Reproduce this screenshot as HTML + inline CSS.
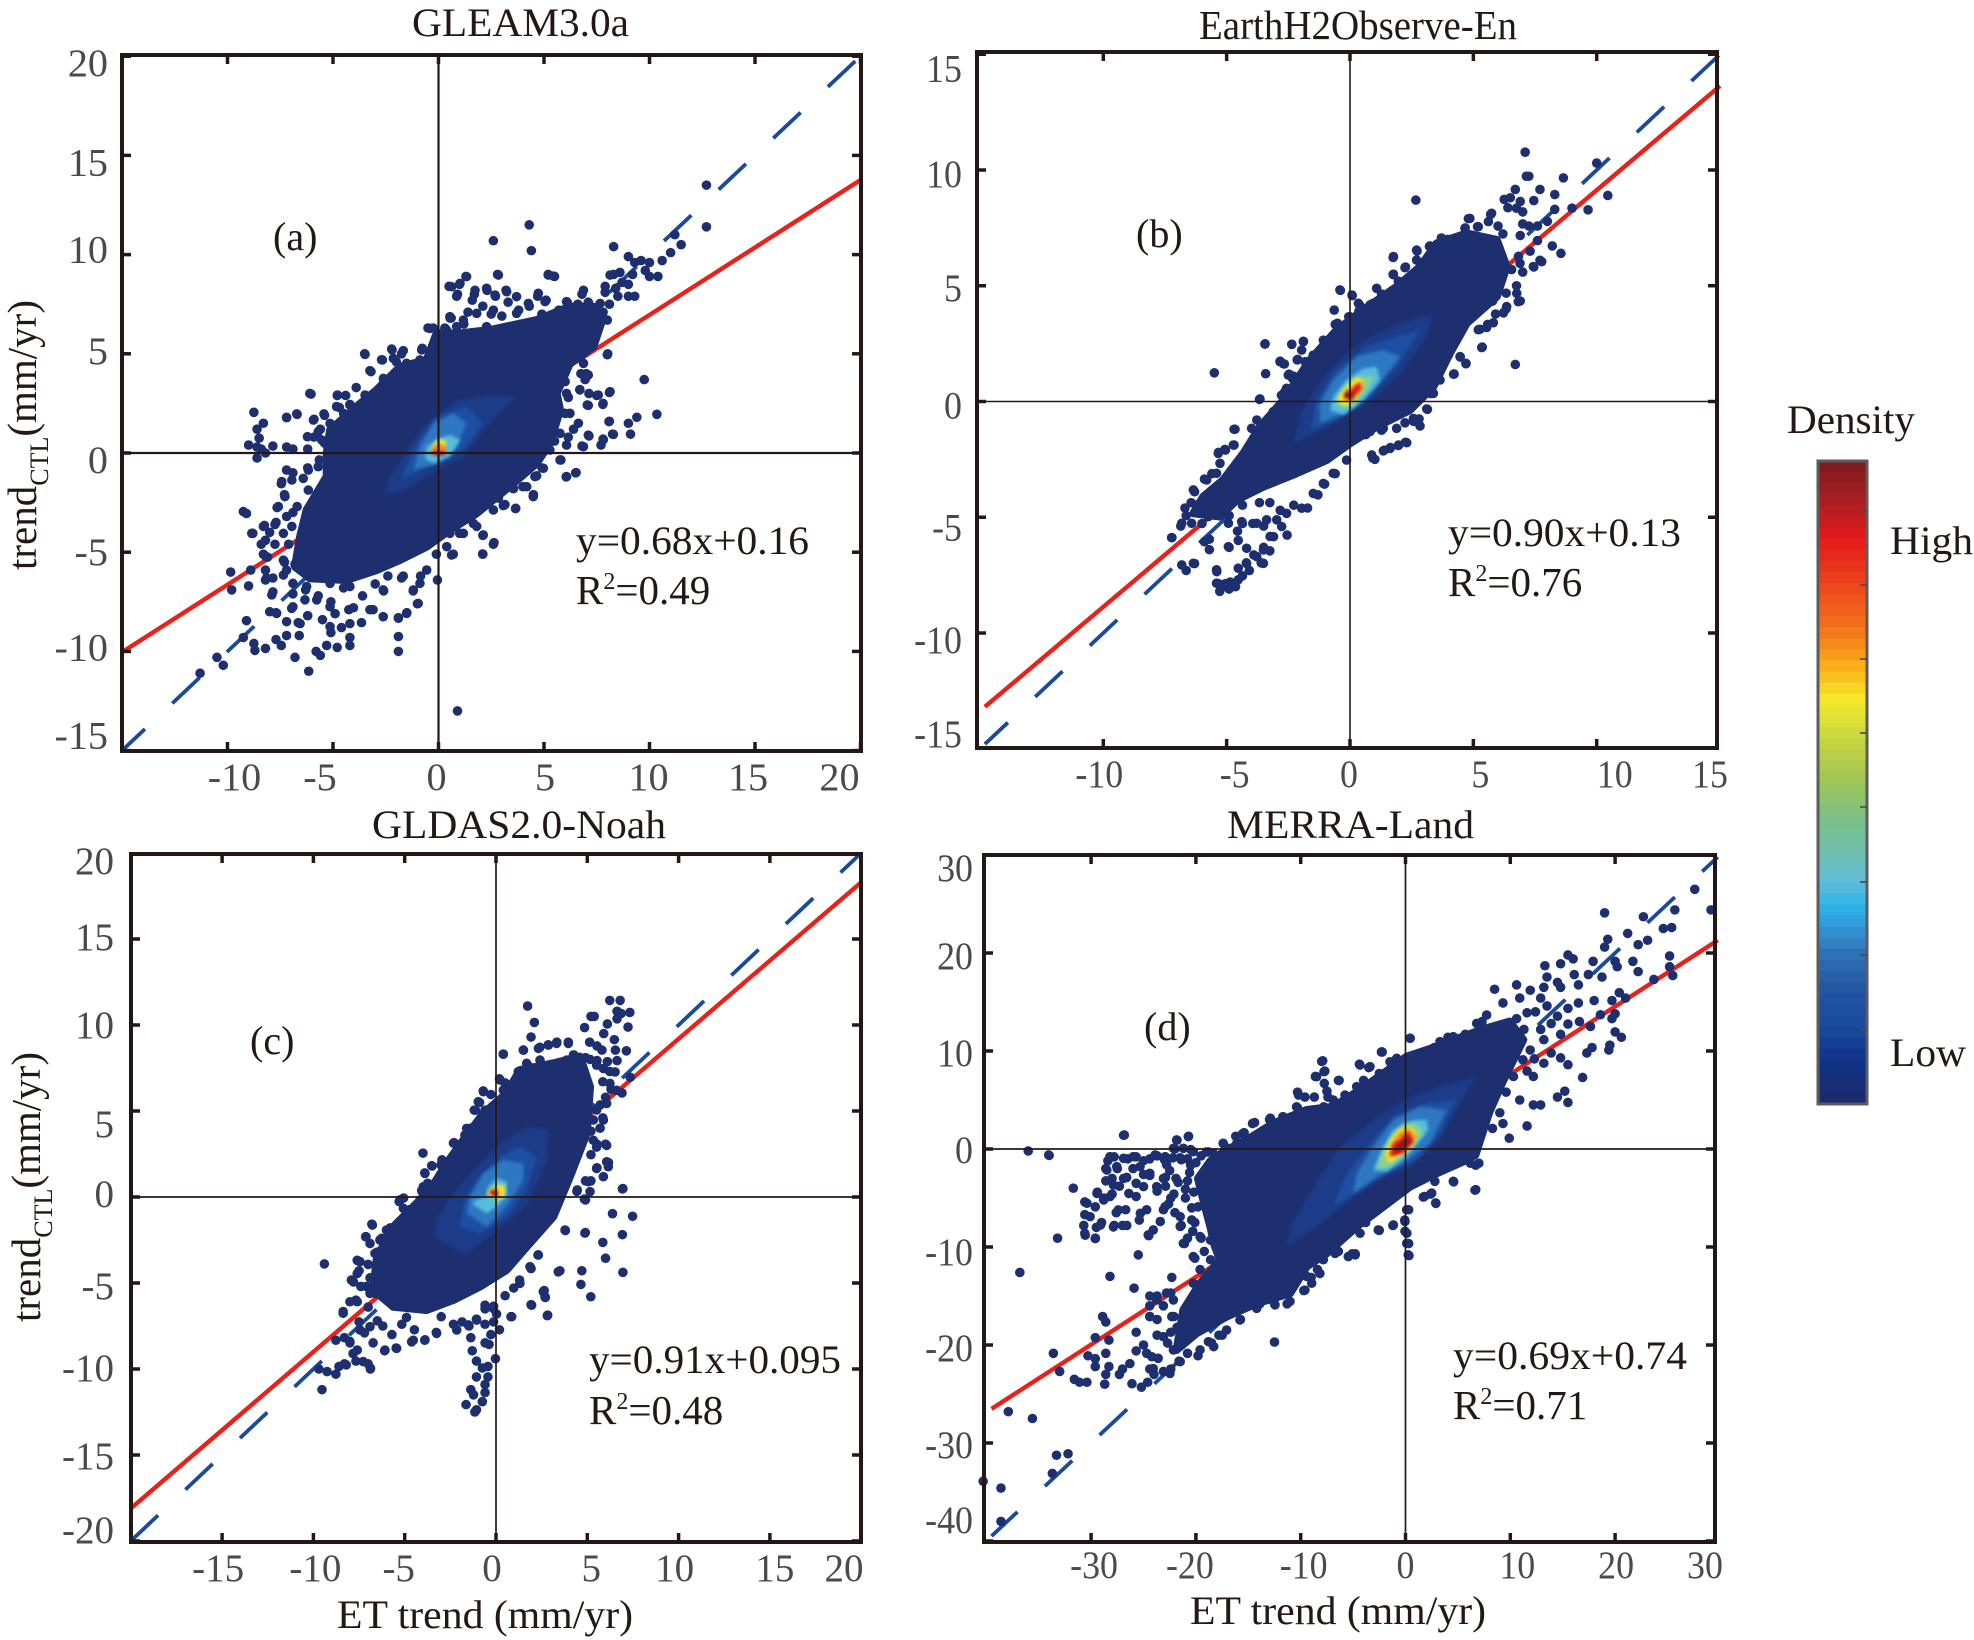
<!DOCTYPE html>
<html lang="en">
<head>
<meta charset="utf-8">
<title>Density scatter of ET trend against CTL trend</title>
<style>
html,body{margin:0;padding:0;background:#fff;}
svg{display:block;}
text{font-family:"Liberation Serif",serif;fill:#231815;}
</style>
</head>
<body>
<svg id="figure" xmlns="http://www.w3.org/2000/svg" width="1974" height="1640" viewBox="0 0 1974 1640">
<defs>
<filter id="soft" x="-30%" y="-30%" width="160%" height="160%"><feGaussianBlur stdDeviation="1.6"/></filter>
</defs>
<rect x="0" y="0" width="1974" height="1640" fill="#fff"/>
<g id="panels"></g>

<text x="412" y="36" font-size="40" textLength="217" lengthAdjust="spacingAndGlyphs">GLEAM3.0a</text>
<text x="1199" y="39" font-size="41" textLength="318" lengthAdjust="spacingAndGlyphs">EarthH2Observe-En</text>
<text x="372" y="838" font-size="40" textLength="294" lengthAdjust="spacingAndGlyphs">GLDAS2.0-Noah</text>
<text x="1227" y="838" font-size="40" textLength="247" lengthAdjust="spacingAndGlyphs">MERRA-Land</text>

<text x="273" y="250" font-size="40">(a)</text>
<text x="1136" y="247" font-size="40">(b)</text>
<text x="250" y="1054" font-size="40">(c)</text>
<text x="1144" y="1040" font-size="40">(d)</text>

<text x="576" y="554" font-size="40" textLength="233" lengthAdjust="spacingAndGlyphs">y=0.68x+0.16</text>
<text x="576" y="604" font-size="41">R<tspan font-size="24" dy="-15">2</tspan><tspan dy="15">=0.49</tspan></text>
<text x="1448" y="546" font-size="40" textLength="233" lengthAdjust="spacingAndGlyphs">y=0.90x+0.13</text>
<text x="1448" y="596" font-size="41">R<tspan font-size="24" dy="-15">2</tspan><tspan dy="15">=0.76</tspan></text>
<text x="589" y="1373" font-size="40" textLength="252" lengthAdjust="spacingAndGlyphs">y=0.91x+0.095</text>
<text x="589" y="1424" font-size="41">R<tspan font-size="24" dy="-15">2</tspan><tspan dy="15">=0.48</tspan></text>
<text x="1453" y="1369" font-size="40" textLength="234" lengthAdjust="spacingAndGlyphs">y=0.69x+0.74</text>
<text x="1453" y="1419" font-size="41">R<tspan font-size="24" dy="-15">2</tspan><tspan dy="15">=0.71</tspan></text>

<text transform="translate(36 570) rotate(-90)" font-size="41">trend<tspan font-size="26" dy="12">CTL</tspan><tspan dy="-12">(mm/yr)</tspan></text>
<text transform="translate(40 1322) rotate(-90)" font-size="41">trend<tspan font-size="26" dy="12">CTL</tspan><tspan dy="-12">(mm/yr)</tspan></text>
<text x="337" y="1628" font-size="40" textLength="296" lengthAdjust="spacingAndGlyphs">ET trend (mm/yr)</text>
<text x="1190" y="1624" font-size="40" textLength="296" lengthAdjust="spacingAndGlyphs">ET trend (mm/yr)</text>

<g id="colorbar"></g>
<text x="1787" y="433" font-size="40" textLength="128" lengthAdjust="spacingAndGlyphs">Density</text>
<text x="1890" y="554" font-size="40" textLength="83" lengthAdjust="spacingAndGlyphs">High</text>
<text x="1890" y="1066" font-size="40" textLength="76" lengthAdjust="spacingAndGlyphs">Low</text>
</svg>

<script>
/* ---------- tick values ---------- */
const xTicksA = [-10,-5,0,5,10,15,20];
const yTicksA = [20,15,10,5,0,-5,-10,-15];
const xTicksB = [-10,-5,0,5,10,15];
const yTicksB = [15,10,5,0,-5,-10,-15];
const xTicksC = [-15,-10,-5,0,5,10,15,20];
const yTicksC = [20,15,10,5,0,-5,-10,-15,-20];
const xTicksD = [-30,-20,-10,0,10,20,30];
const yTicksD = [30,20,10,0,-10,-20,-30,-40];

/* ---------- regression fits ---------- */
const fitSlopes = [0.68,0.90,0.91,0.69];
const fitIntercepts = [0.16,0.13,0.095,0.74];

/* ---------- extent of the drawn reference lines (data units) ---------- */
const lineFromX = [-15,-14.8,-20,-39.5];
const lineToX = [20,15,20,29.8];

/* ---------- solid low-density region of each panel (data units) ---------- */
const hullA = [[-6.8,-5.73],[-6.09,-6.32],[-4.35,-6.4],[-2.93,-5.9],[-1.82,-5.39],[-0.56,-4.72],[0.54,-3.88],[1.81,-3.04],[3.55,-1.53],[4.65,-0.52],[5.28,0.49],[5.76,2.17],[5.6,3.0],[6.23,4.52],[7.34,5.36],[7.81,6.87],[7.34,7.38],[6.23,7.38],[4.65,6.7],[2.44,6.2],[1.02,6.03],[-0.09,6.03],[-0.56,4.69],[-1.82,4.35],[-2.93,3.18],[-3.88,2.34],[-5.14,1.16],[-5.3,-0.02],[-5.3,-1.19],[-6.25,-2.87],[-6.56,-4.22]];
const hullB = [[-6.35,-4.83],[-5.27,-4.97],[-4.59,-4.25],[-3.51,-3.68],[-2.16,-3.1],[-0.95,-2.53],[0,-1.81],[1.08,-1.09],[2.43,-0.37],[3.38,0.64],[4.05,2.08],[4.73,3.38],[5.95,4.53],[6.35,5.82],[5.95,6.98],[4.73,7.26],[3.51,6.83],[2.84,5.82],[1.89,4.96],[0.54,3.95],[-0.54,3.09],[-1.62,1.79],[-2.7,0.06],[-3.65,-1.09],[-4.32,-2.24],[-5.14,-3.39],[-5.95,-4.11]];
const hullC = [[-5.8,-1.92],[-6.54,-3.66],[-6.72,-5.41],[-5.62,-6.38],[-3.8,-6.57],[-2.34,-5.99],[-0.88,-5.21],[0.58,-4.24],[1.68,-2.89],[3.14,-1.14],[4.05,1.18],[4.97,3.7],[5.15,6.41],[4.6,8.16],[3.14,7.77],[1.31,7.38],[0.58,6.03],[-0.69,4.86],[-1.79,3.31],[-2.7,1.96],[-3.61,0.41],[-5.07,-1.14]];
const hullD = [[-21.84,-20.5],[-19.93,-18.8],[-17.07,-17.1],[-14.2,-15.75],[-11.02,-14.73],[-9.43,-12],[-7.52,-10.65],[-4.66,-7.93],[-2.11,-5.88],[0.43,-3.84],[2.97,-2.48],[5.84,-1.12],[6.67,-0.6],[7.97,3.68],[9.28,6.88],[11.24,11.15],[9.93,13],[7.32,12.2],[4.05,10.9],[2.97,10.44],[0.11,9.42],[-2.11,7.72],[-4.34,6.02],[-6.89,4.32],[-9.43,3.98],[-12.6,2.62],[-15.16,0.92],[-17.07,-0.1],[-18.6,-1.2],[-19.8,-3],[-19.2,-5.6],[-18.6,-8],[-18.2,-9.9],[-17.7,-11.33],[-19.6,-13.7],[-21.2,-16.43]];

/* ---------- density contours: [level, vertices] (data units) ---------- */
const contoursA = [
 [1,[[-2.61,-2.12],[-1.51,-1.86],[-0.09,-0.86],[1.18,-0.18],[2.44,1.5],[3.7,2.84],[2.44,2.92],[0.86,2.67],[-0.72,1.33],[-1.51,0.15],[-2.3,-1.19]]],
 [2,[[-1.82,-1.36],[-0.09,-0.52],[1.18,0.15],[2.12,1.5],[1.33,2.34],[-0.09,1.83],[-1.03,0.49]]],
 [3,[[-1.19,-0.86],[-0.09,-0.52],[0.86,0.32],[1.33,1.5],[0.7,2],[-0.24,1.5],[-0.88,0.32]]],
 [4,[[-0.64,-0.27],[-0.24,-0.52],[0.54,-0.18],[1.02,0.66],[0.54,0.91],[-0.09,0.66],[-0.56,0.32]]],
 [6,[[-0.32,0.07],[0.23,0.15],[0.39,0.57],[0.07,0.74],[-0.24,0.49]]],
 [7,[[-0.32,-0.02],[0.3,-0.02],[0.39,0.32],[0,0.49],[-0.28,0.32]]],
 [8,[[-0.32,-0.1],[0.3,-0.15],[0.3,0.1],[-0.24,0.15]]]
];
const contoursB = [
 [1,[[-2.3,-1.81],[-1.08,-1.23],[0,-0.51],[1.08,0.21],[2.16,1.36],[3.11,2.8],[3.38,3.81],[2.43,3.52],[1.08,2.94],[0,2.22],[-1.08,1.07],[-2.03,-0.51]]],
 [2,[[-1.62,-1.23],[-0.54,-0.8],[0.68,0.06],[1.89,1.5],[2.84,3.09],[1.89,2.8],[0.68,2.37],[-0.54,1.36],[-1.35,0.06]]],
 [3,[[-1.22,-0.94],[0,-0.37],[1.08,0.64],[2.03,1.94],[1.35,2.22],[0.27,1.94],[-0.68,0.93],[-1.22,-0.08]]],
 [4,[[-0.81,-0.37],[-0.27,-0.58],[0.54,0.06],[1.22,0.93],[1.08,1.5],[0.54,1.43],[-0.14,0.93],[-0.68,0.21]]],
 [5,[[-0.47,-0.22],[0.14,-0.22],[0.68,0.5],[0.95,1.07],[0.41,1.07],[-0.14,0.79],[-0.47,0.21]]],
 [6,[[-0.54,0],[-0.2,-0.22],[0.27,0.21],[0.54,0.93],[0.27,1.07],[-0.14,0.64],[-0.41,0.35]]],
 [7,[[-0.27,0.06],[0.14,0.06],[0.54,0.64],[0.41,0.86],[0.14,0.64],[-0.14,0.5]]],
 [8,[[-0.2,0.14],[0.14,0.21],[0.47,0.57],[0.34,0.81],[0.07,0.5]]],
 [9,[[-0.24,0.21],[0.11,0.06],[0.11,0.35],[-0.07,0.47],[-0.24,0.35]]]
];
const contoursC = [
 [1,[[-3.43,-2.31],[-1.61,-3.37],[-0.15,-2.11],[1.68,-0.56],[2.77,1.96],[2.87,3.9],[1.68,4.09],[0.22,3.12],[-1.24,1.57],[-2.52,0.02],[-3.25,-1.34]]],
 [2,[[-1.97,-1.72],[-0.88,-2.11],[0.58,-1.14],[1.68,0.41],[2.23,2.34],[1.31,2.93],[0.22,2.34],[-1.06,0.99],[-1.79,-0.37]]],
 [3,[[-1.61,-0.95],[-0.51,-1.72],[0.58,-0.56],[1.5,0.99],[1.5,1.96],[0.4,2.15],[-0.69,1.38],[-1.42,0.02]]],
 [4,[[-1.33,-0.37],[-0.51,-0.95],[0.04,-0.56],[0.58,0.02],[0.58,0.89],[0.04,1.09],[-0.42,0.6],[-0.51,0.02],[-1.06,-0.17]]],
 [6,[[-0.51,0.21],[0.13,-0.17],[0.49,0.02],[0.49,0.7],[0.04,0.7],[-0.33,0.41]]],
 [7,[[-0.51,0.25],[0.04,-0.08],[0.22,0.21],[0.04,0.5],[-0.33,0.37]]],
 [9,[[-0.33,0.31],[-0.05,-0.02],[0.07,0.02],[0.04,0.41],[-0.18,0.41]]]
];
const contoursD = [
 [1,[[-11.34,-9.97],[-8.48,-7.93],[-5.3,-5.2],[-2.43,-3.16],[0.43,-1.8],[3.29,0.92],[5.2,4.66],[6.79,7.38],[3.29,6.36],[-0.21,5],[-3.07,2.96],[-6.25,0.24],[-8.79,-3.84],[-11.02,-7.93]]],
 [2,[[-6.89,-5.88],[-4.34,-4.18],[-1.8,-2.48],[1.07,-1.12],[3.29,1.6],[4.88,5],[1.7,4.66],[-1.16,3.3],[-3.39,0.58],[-5.61,-2.48]]],
 [3,[[-4.98,-4.52],[-2.75,-2.82],[-0.21,-1.46],[2.34,0.58],[3.93,3.98],[1.38,4.32],[-1.16,2.96],[-3.07,0.24],[-4.66,-2.48]]],
 [4,[[-3.07,-2.14],[-1.8,-2.31],[0.11,-0.78],[2.18,1.94],[2.02,2.96],[0.75,2.96],[-1.16,1.94],[-2.11,0.24]]],
 [5,[[-2.75,-1.97],[-1.48,-1.8],[0.43,-0.1],[1.7,1.6],[1.07,2.62],[-0.21,2.62],[-1.16,1.6],[-2.11,-0.1]]],
 [6,[[-1.96,-0.61],[-1.48,-1.46],[0.43,0.07],[1.07,1.6],[0.43,2.28],[-0.68,1.94],[-1.48,0.92]]],
 [7,[[-1.64,-0.78],[0.43,0.24],[1.07,1.26],[0.27,2.1],[-0.68,1.6],[-1.32,0.58]]],
 [8,[[-1.48,-0.78],[-0.21,-0.44],[0.75,0.75],[0.27,1.77],[-0.52,0.92],[-1.16,0.58]]],
 [9,[[-1.16,-0.61],[-0.21,0.07],[0.59,0.75],[0.11,1.26],[-0.68,0.58]]]
];

/* ---------- individually visible scatter points [x,y] ---------- */
const pointsA = [[0.9,-13],[12.7,13.5],[12.7,11.4],[11.2,11],[11.5,10.5],[11,10.1],[10.6,9.7],[8.3,10.4],[4.3,11.5],[4.4,10.2],[2.6,10.7],[2.8,9],[5.2,9],[5.5,8.9],[1.3,8.9],
[9,9.9],[9.3,9.6],[9.6,9.7],[10,9.6],[9.8,9.2],[10,8.9],[10.4,8.9],[9.2,9],[8.6,9.1],[8.3,9],[8.7,8.6],[9,8.5],[8.4,8.3],[7.9,8.4],[7.9,8.1],[8.5,7.9],[9,7.9],[9.3,7.9],[8.1,7.5],[7.8,7.1],[7.3,7],[7.6,6.6],[8,6.7],
[0.5,8.4],[1,8.5],[0.9,8],[1.7,8],[2.3,8.2],[1.6,7.7],[2.7,7.9],[3.2,8.2],[3.3,7.6],[4.7,7.9],[5.1,7.7],[6.8,8],[6.1,7.6],[3.8,7.2],[2.1,7.4],[1.4,7.1],[4.3,7.4],[5.7,7.2],[6.6,7.5],[7.1,7.6],[0.6,6.8],[1.2,6.5],[2.5,7],[3,6.9],[4.9,7],
[-8.75,2.05],[-8.3,1.5],[-8.6,1.2],[-8.5,0.75],[-9,0.4],[-8.6,0.3],[-8.4,0.2],[-8.6,-0.25],[-8.2,0],[-7.85,0.35],[-7.2,0.3],[-6.9,0.2],[-7.2,1.8],[-6.7,1.95],[-6.1,3],[-4.8,2.9],[-5.9,1.7],[-5.4,1.9],[-4.7,2.3],[-4.2,2.45],[-3.5,5],[-2.7,4.7],[-3.2,4.1],[-2.2,5.2],[-1.75,5],[-2,4.6],[-2.6,3.7],[-0.8,5.2],[-0.5,6.3],[-0.25,6.3],[0.3,6.3],[0.55,6.8],[-5.6,1.2],[-5.9,0.8],[-5.4,0.5],[-6.2,0.2],[-3.9,3.3],[-4.4,2.9],
[-9.85,-6],[-9.8,-6.9],[-9.25,-2.95],[-9.1,-3.05],[-8.8,-4.05],[-8.25,-3.65],[-8,-4],[-7.7,-3.5],[-7.65,-2.75],[-7.3,-2.1],[-7.45,-1.55],[-6.9,-1],[-6.2,-0.75],[-5.65,-0.35],[-8.3,-5.1],[-8.1,-5.25],[-8.9,-5.9],[-9,-6.7],[-8.2,-6.4],[-7.85,-6.3],[-7.85,-7],[-9.1,-8.45],[-8,-8],[-7.7,-8.05],[-6.9,-7.75],[-7.2,-8.5],[-6.65,-8.55],[-6.6,-9.2],[-7.7,-9.4],[-7.2,-9.2],[-8.75,-9.6],[-9.25,-9.3],[-8.2,-9.85],[-7.45,-9.7],[-8.7,-9.95],[-10.5,-10.3],[-10.2,-10.7],[-11.3,-11.1],[-6.8,-10.3],[-6.15,-11],[-5.8,-10],[-5.6,-10.2],[-5.3,-9.7],[-4.8,-9.8],[-4.2,-9.7],[-4.2,-9.3],[-5.1,-9.05],[-4.6,-8.8],[-3.65,-8.55],[-4.25,-7.9],[-3.1,-7.9],[-2.6,-6.95],[-1.9,-8.3],[-1.9,-9.25],[-1.9,-10],[-1.5,-8.05],[-1,-7.6],[-1.2,-6.95],[-0.05,-6.4],[-0.85,-6.2],[-1.75,-6.3],[-0.1,-5.1],[0.7,-5.1],[2.1,-4.15],[2.1,-5.1],[2.6,-4.6],[1,-4.05],[1.65,-3.55],[3.15,-2.6],[3.65,-2.8],[4.5,-2.1],[4,-1.7],[3.55,-1.8],[4.9,-0.75],[4.65,-1.15],[6.05,-1.2],[6.5,-1],[5.8,-0.35],
[-6.8,-5.6],[-6.3,-6.9],[-5.7,-7.2],[-5.1,-7.5],[-6.2,-8.2],[-5.5,-8.4],[-4.9,-8.1],[-3.6,-7.2],[-4.5,-6.8],[-3,-6.6],[-2.4,-6.2],[-7.1,-4.6],[-7.3,-5.5],[-6.9,-3],
[10.35,1.95],[9.75,3.7],[9.4,1.8],[9,1.5],[9.1,0.95],[8.25,0.95],[7.8,0.7],[7.7,0.4],[8.1,1.6],[7.1,0.9],[6.8,0.35],[6.4,1.2],[6.15,0.8],[8.1,3.05],[7.8,2.5],[7.5,2.9],[7.1,2.4],[8,4.95],[7,4],[6.75,4],[6.95,3.7],[6.7,3.2],[6.75,4.9],[6,3.6],[6,2],[6.15,2.8],[5.5,0.6],[5.2,0.2],
[0.62,8.38],[1.02,8.55],[1.33,8.89],[2.84,8.97],[5.2,8.97],[5.44,8.92],[0.86,7.9],[1.73,8.2],[2.28,8.3],[2.68,7.96],[3.23,8.13],[3.7,7.88],[4.73,8.05],[4.26,7.54],[5.05,7.63],[6.07,7.63],[6.87,8.2],[7.66,7.54],[8.13,8.97],[0.54,6.87],[1.18,6.7],[1.81,7.04],[2.6,7.2],[3.7,7.04],[0.86,6.37],[0.38,6.2],[-0.4,6.28],[2.28,6.37],
[-3.48,4.97],[-2.66,4.69],[-3.25,4.15],[-2.22,5.24],[-1.67,5.16],[-0.77,5.28],[-2.14,4.77],[-1.51,4.52],[-0.88,4.69],[-2.61,3.76],[-6.04,2.97],[-4.79,2.92],[-7.2,1.78],[-6.72,1.97],[-5.93,1.66],[-5.43,1.97],[-4.83,2.34],[-4.2,2.42],[-3.48,2.92],[-5.7,1.07],[-5.54,0.66],[-6.21,0.82],[-5.14,1.49],[-4.5,2],
[-7.2,-0.86],[-6.95,-1.36],[-7.43,-1.44],[-6.41,-1.28],[-5.7,-0.69],[-6.17,-0.86],[-7.28,-2.2],[-7.59,-2.7],[-6.7,-2.7],[-7.2,-3.2],[-6.17,-1.87],[-8.3,-3.7],[-7.75,-3.6],[-7.35,-4.05],[-6.95,-3.7],[-8.85,-4.05],[-8.2,-4.4],[-8.4,-4.6],[-7.75,-4.6],[-8.2,-5.2],[-7.35,-5.4],[-8.2,-5.9],[-7.2,-5.9],[-8.15,-6.3],[-7.35,-6.15],[-6.9,-6.57],[-7.9,-7.15],[-6.9,-7.1],[-6.25,-6.73],[-5.14,-6.57],[-4.2,-6.73],[-2.62,-6.9],[-1.19,-6.9],[-0.88,-6.57],[-1.67,-6.2],[-0.56,-5.9],
[0.39,-4.72],[0.62,-5.14],[2.12,-4.13],[2.63,-4.52],[2.09,-5.09],[1.81,-3.7],[1.18,-4.05],[0.54,-4.05],[2.84,-2.28],[3.07,-2.65],[3.66,-2.79],[4.49,-2.2],[4.18,-1.7],[3.55,-1.78],[2.6,-2.87],[1.81,-2.7],[1.33,-3.2],[3.07,-1.53],[4.97,-0.77],[4.57,-1.19],[5.76,-0.35],[6.07,-1.19],[6.52,-0.99],[5.28,0.15],
[6.07,3],[6.7,3.18],[7.13,3],[7.57,2.92],[8.13,3.09],[7.05,2.42],[7.79,2.45],[6.23,2],[6.63,1.5],[7.13,0.86],[8.08,1.58],[8.29,0.94],[7.81,0.66],[6.87,0.32],[6.07,0.4],[5.76,0.99],[8.02,5],[7.1,3.93],[6.87,4.52],[6.63,4.85],
[-5.77,-7.4],[-5.14,-7.75],[-4.03,-7.8],[-3.25,-7.9],[-2.62,-8.25],[-1.9,-8.33],[-1.51,-8.08],[-0.96,-7.58],[-5.14,-8.75],[-4.2,-8.6],[-6.56,-8.6],[-7.67,-8.08],[-6.96,-7.83],[-6.33,-7.4]];

const pointsB = [[7.1,10.77],[7.15,9.73],[7.25,9.73],[8.65,9.66],[10,10.3],[7.7,9.16],[6.7,9.16],[8.3,8.94],[10.45,8.9],[2.67,8.7],[6.25,8.73],[6.5,8.8],[6.9,8.64],[7.45,8.68],[6.4,8.37],[6.75,8.35],[7,8.19],[8.3,8.3],[9,8.35],[9.65,8.28],[8,7.78],[7,7.67],[7.25,7.58],[7.6,7.58],[4.8,7.9],[5.7,8.08],[4.67,7.5],[5.17,7.55],[6,7.58],[6.2,7.24],[6.9,7.17],[7.6,6.95],[8.2,6.72],[8.55,6.4],[7.3,6.49],[7.7,6.1],[6.83,6.27],[7.45,5.81],[7,5.59],[6.55,5.7],[6.75,5],[6.9,4.34],[6.33,4.68],[6.33,4],[5.78,4.34],[5.9,3.78],[5.2,3.1],[5.58,3.33],[5.36,2.35],[4.47,1.92],[4.7,1.63],[4.2,1.18],[6.7,1.6],[3.28,0.34],[3.14,-0.34],[2.8,-0.75],[2.58,-0.86],[2.25,-1.76],[1.97,-1.88],[1.64,-1.99],[1.39,-2.1],[0.92,-2.44],[1.28,-1.24],[0.64,-1.43],
[-5.5,1.24],[-3.44,2.49],[-3.42,1.2],[-2.36,2.47],[-1.89,2.58],[-2.83,1.74],[-2.7,1.63],[-2.14,1.8],[-2.47,1.18],[-2.33,1],[-2.55,0.5],[-2.78,0.27],[-3.67,0.09],[-0.39,4.8],[0.08,4.6],[0.42,4.12],[0.36,3.9],[-0.05,3.66],[-0.6,3.33],[-0.47,3],[1.75,6.22],[1.75,5.48],[2.72,6.5],[3.22,6.7],[2.25,5.81],[1.28,4.64],[0.92,4.23],[3.7,7.06],[3.97,7],[4.4,7],[5,6.9],[5.5,6.6],[2.9,5.9],[3.4,6.1],[5.9,5.9],[6.1,6.4],[5.4,5.2],[5.7,4.9],
[-7.22,-5.88],[-6.64,-7.3],[-6.3,-7],[-5.7,-6.4],[-5.9,-6.06],[-6.86,-5.38],[-6.64,-4.93],[-6.44,-4.37],[-6.3,-3.9],[-6,-4.8],[-6,-5.27],[-5.6,-4.7],[-5.33,-2.2],[-5.05,-2.1],[-4.7,-1.2],[-4.7,-1.88],[-5.9,-3.35],[-5.6,-3.12],[-5.4,-7.35],[-5.33,-7.87],[-5.05,-7.87],[-4.86,-7.8],[-5.28,-8.2],[-4.9,-8.1],[-4.64,-8],[-4.36,-7.53],[-4.08,-7.3],[-3.6,-6.97],[-4.2,-6.97],[-3.9,-6.63],[-3.5,-6.3],[-3.25,-6.45],[-3.1,-5.84],[-2.55,-5.77],[-4.56,-5.6],[-4.9,-6.3],[-5.7,-5.95],[-4.36,-5.27],[-3.94,-5.27],[-3.5,-5.38],[-3.25,-4.37],[-2.83,-4.7],[-2.28,-4.48],[-1.72,-4.6],[-1.3,-4.03],[-1.03,-3.57],[-0.6,-3.12],[-4.36,-4.48],[-4.9,-4.93],[-3.67,-4.37],[-5.2,-4.48],[-5.4,-3.9],[-5,-3.6],[-4.3,-3.5],
[-3.45,2.48],[-2.36,2.47],[-1.89,2.6],[-1.08,2.65],[-1.96,2.22],[-1.49,2],[-2.12,1.82],[-1.82,1.72],[-2.84,1.72],[-2.66,1.62],[-2.5,1.14],[-2.3,1.1],[-2.57,0.57],[-2.64,0.42],[-2,0.93],[-1.66,1.36],[-3.65,0.11],[-3.11,-0.44],[-3.78,-0.8],[-3.38,-0.87],[-3.99,-1.16],[-4.66,-1.2],[-4.73,-1.88],[-5.07,-2.07],[-5.34,-2.24],[-5.27,-2.67],[-5.41,-3.1],[-5.81,-3.39],[-6.35,-3.82],[-6.69,-4.6],[-6.22,-4.47],[-6.82,-5.26],[-6.42,-5.26],[-7.23,-5.88],[-5.74,-4.97],
[-0.41,4.82],[0.09,4.57],[0.34,4.24],[0.41,3.95],[-0.64,3.95],[0,3.66],[-0.51,3.38],[1.08,4.89],[1.35,4.6],[0.81,4.17],[1.76,6.26],[1.76,5.5],[1.96,5.2],[2.23,5.78],[2.7,6.54],[2.7,6.11],[3.24,6.72],[3.72,7.05],[4.12,7],[3.45,6.33],[4.86,7.91],[5.2,7.55],[5.74,8.13],[5.61,7.77],[4.66,7.48],
[6.89,5.97],[7.77,6.04],[7.43,5.83],[6.76,4.67],[6.82,4.31],[6.35,4.1],[6.22,3.83],[5.81,3.4],[5.27,3.12],[5.54,3.2],[5.34,2.33],[4.46,1.94],[4.7,1.65],[4.22,1.19],[3.65,0.93],[3.38,0.35],[3.11,-0.32],[2.84,-1.06],[2.57,-0.73],[2.23,-0.92],[1.89,-1.16],[1.35,-1.16],[2.3,-1.78],[1.96,-1.9],[1.62,-2.03],[1.35,-2.13],[0.88,-2.31],[1.01,-2.5],[0.81,-1.3],
[-0.14,-2.53],[-0.68,-3.1],[-1.08,-3.54],[-1.49,-3.97],[-1.96,-4.61],[-2.57,-4.83],[-2.77,-5.4],[-2.97,-5.11],[-3.38,-5.11],[-3.78,-5.26],[-4.39,-5.19],[-4.93,-5.26],[-4.53,-6],[-4.93,-6.27],[-3.24,-5.83],[-3.51,-6.41],[-4.19,-6.34],[-3.78,-6.7],[-3.51,-6.99],[-4.53,-7.2],[-5.41,-7.27],[-6.35,-6.99],[-6.82,-7.06],[-5.41,-7.85],[-5,-8],[-4.53,-7.7],[-4.19,-7]];

const pointsC = [[1.73,11.1],[2.1,10.15],[1.92,9.3],[0.4,8.3],[6.23,11.43],[6.8,11.43],[5.2,10.5],[5.38,10.5],[4.85,9.85],[5.9,9.5],[6.1,10.06],[6.63,10.8],[6.85,10.67],[6.63,10.36],[7.33,10.73],[7.23,9.88],[7.14,8.5],[6.48,9.15],[6.54,8.54],[5.13,9],[5.53,8.78],[5.8,8.54],[4.9,8.1],[5.53,7.93],[6.1,7.87],[6.63,7.93],[6.23,7.3],[5.85,6.7],[7.35,6.96],[6.3,6.26],[6.9,6.05],[6,5.8],[5.7,5.35],[5.85,4.6],[5.2,3.83],[5.53,3.07],[6,3.07],[5.2,2.46],[6.16,2],[5.53,1.7],[4.9,0.94],[5.2,0.94],[6.95,0.49],[4.84,-0.12],[4.43,0.33],[6.38,-0.97],[7.48,-1.12],[6.92,-2.19],[5.85,-2.64],[6,-3.56],[4.87,-2.1],[3.8,-1.95],[3.5,-4.29],[4.7,-4.29],[4.65,-5.08],[6.95,-4.38],[5.19,-5.8],[2.64,-5.44],[2.7,-5.84],[1.92,-6.26],[2.83,-6.87],[0.82,-6.96],[2.3,-3.37],[1.92,-4.16],[1.29,-4.83],[0.97,-5.29],[0.5,-5.74],[-0.13,-6.35],[-0.6,-6.5],[0.03,-6.8],[-0.6,-7.4],[-0.13,-7.26],[0.19,-7.72],[-0.28,-8],[-1.07,-7.1],[-1.48,-7.5],[-2.33,-7.4],[-1.86,-7.26],[-3,-6.96],[-3.27,-7.87],[-3.9,-8.33],[-4.47,-7.72],[-5.16,-7.4],[-4.53,-8.33],[-5.47,-8.78],[-6.1,-8.94],[-6.73,-8.48],[-7,-9.7],[-6.88,-10],[-7.67,-9.54],[-8.3,-9.7],[-8.6,-9.85],[-8.77,-10.3],[-9.25,-10.15],[-9.7,-10],[-9.53,-11.2],[-8.3,-8.18],[-8,-8.48],[-8.77,-8.33],[-8.37,-6.66],[-7.67,-6],[-7.83,-9.1],[-7.5,-7.26],[-9.4,-3.89],[-7.92,-4.83],[-7.6,-3.68],[-7.14,-2.31],[-6.8,-1.58],[-7.5,-4.29],[-7,-3.92],[-6.26,-2.4],[-5.8,-1.8],[-5.3,-0.27],[-5.06,-0.06],[-4.7,-0.73],[-4,2.55],[-3.9,1.4],[-3.5,1.8],[-2.96,2.16],[-3,1.85],[-4.05,0.33],[-3.74,0.8],[-2.33,3.13],[-1.7,3.37],[-1.38,4],[-1.13,5.05],[-0.7,6.17],[-0.9,5.5],[-0.28,5.96],[0.19,6.87],[0.5,6.63],[1.5,8.54],[1.76,7.63],[2.4,8.7],[2.86,8.85],[3.33,9],[3.96,9],[4.28,8.24],
[-1.38,-8.18],[-1.3,-8.94],[-0.6,-8.48],[-0.38,-8.57],[-0.03,-9.4],[-0.44,-9.85],[-0.75,-9.94],[-1.07,-9.54],[-0.44,-10.46],[-1.07,-10.46],[-0.6,-10.9],[-1.38,-11.2],[-1.23,-11.5],[-0.6,-11.37],[-0.75,-11.9],[-1.64,-12.07],[-1.16,-12.5],[-1.07,-12.37],
[-6.5,-7.2],[-7,-6.4],[-6.6,-5.6],[-7.2,-7.9],[-6.2,-7.5],[-5.7,-8],[-4.9,-7],[-7.4,-5.2],[-6.9,-4.7],[-6.5,-3.2],
[0.4,8.31],[1.5,8.54],[2.32,8.64],[2.87,8.83],[3.32,8.93],[3.96,8.93],[4.24,8.26],[2.41,7.96],[3.14,7.67],[3.87,7.96],[1.68,7.77],[1.22,7.29],[0.86,6.42],[0.22,6.8],[0.4,6.22],[-0.69,6.12],[-0.97,5.54],[-0.6,5.05],[-1.19,5.05],[-1.61,3.99],[-1.7,3.6],[-2.3,3.16],[-1.79,2.93],[-2.34,2],[-2.98,1.95],[-3.52,1.82],[-3.89,1.37],[-3.98,0.6],[-4.07,0.37],[-3.25,0.21],[-4.16,-0.17],[-5.26,-0.17],[-5.07,-0.66],[-6,-1.92],[-6.77,-1.63],[-7.12,-2.31],[-6.36,-2.5],[-6.9,-2.7],[-6.63,-3.28],
[5.15,8],[5.51,7.66],[5.88,7.47],[6.52,7.27],[6.24,6.6],[6.61,6.2],[6.06,5.44],[5.51,5.06],[5.88,4.48],[5.33,4.48],[5.7,4],[5.33,3.3],[6.06,3],[5.51,2.9],[6.06,2.05],[6.15,1.76],[5.51,1.66],[5.88,1.18],[5.06,0.89],[5.15,0.31],[4.45,0.41],[4.9,-0.17],[6.92,0.47],[3.78,-1.92],[4.89,-2.07],[2.32,-3.37],[1.86,-4.05],[1.31,-5.02],[0.86,-6.96],[1.95,-6.29],[2.81,-6.9],[2.59,-5.5],[2.68,-5.79],[3.41,-4.35],
[-8.37,-6.76],[-8,-6.09],[-7.6,-6.09],[-6.9,-5.6],[-7.1,-5.2],[-7.6,-4.45],[-7.8,-4.94],[-7.45,-3.76],[-6.9,-7.54],[-7.45,-7.73],[-8,-8.4],[-7.6,-8.9],[-8.2,-9.76],[-7.27,-9.57],[-6.87,-9.96],[-6.08,-8.9],[-5.44,-8.8],[-4.62,-8.42],[-3.89,-8.3],[-3.25,-7.93],[-2.15,-7.73],[-1.51,-7.44],[-1.06,-7.16],[-0.6,-6.29],[-0.15,-6.48]];

const pointsD = [[-26.9,1.4],[-36,-0.2],[-34,-0.65],[-31.7,-4],[-21.8,0.9],[-20.7,1.3],[-22,0],[-33.2,-9.1],[-36.8,-12.6],[-28.2,-13],[-25.5,-10.8],[-25.9,-14.2],[-28.9,-17.1],[-28.6,-17.65],[-33.6,-20.85],[-33,-22.7],[-31.6,-23.5],[-31.1,-23.8],[-30.4,-23.8],[-28.7,-24],[-37.9,-26.8],[-35.6,-27.5],[-33.3,-31.25],[-32.2,-31.1],[-33.7,-33.1],[-40.3,-33.9],[-38.6,-34.6],[-38.6,-38],[-12.5,-19.7],
[-28.4,-1.2],[-27.8,-0.8],[-28.6,-2],[-27.5,-2],[-28,-3],[-26.5,-1],[-26,-2],[-25.7,-0.8],[-25,-1.2],[-24.4,-1],[-23.7,-0.7],[-23,-1.1],[-22.2,-0.9],[-21.5,-0.9],[-20.8,-1],[-20,-1.4],[-19.5,-0.7],[-19,-0.3],[-18.6,-1.5],
[-29.6,-19.25],[-28.3,-19.5],[-30.3,-21.1],[-29.6,-21.4],[-29.6,-22.2],[-28.6,-20.85],[-28.3,-22.2],[-27,-22.45],[-27.3,-23],[-28.6,-23],[-26.3,-21.9],[-25.7,-18.7],[-25,-20],[-25.7,-20.6],[-24.7,-20.85],[-24.4,-22.45],[-24,-23],[-26.1,-23.95],[-25.2,-24.3],[-24.6,-23.8],[-23.1,-22.7],[-22.4,-22.45],[-23.7,-19],[-22.7,-19.8],[-23.7,-17.4],[-24.4,-15],[-23.7,-15],[-22.3,-13.1],[-24.4,-16],[-24.4,-17.1],[-23.1,-16],[-22.4,-14.7],[-22.1,-17.1],[-21.8,-18.2],[-22.4,-18.7],[-21.4,-20],[-20.8,-20.85],[-21.6,-21.65],[-19.8,-21.1],[-18.5,-19.8],[-17.8,-19],
[-30.6,-5.4],[-30.6,-6.7],[-30.7,-7.8],[-30.6,-8.6],[-29.6,-9.1],[-29.5,-8],[-29.6,-5.9],[-29.4,-4.4],[-28.8,-5],[-29,-7.5],[-27.8,-7.8],[-27,-7.8],[-26.7,-6.2],[-27.6,-6.5],[-28,-4.6],[-28.6,-3.25],[-27.3,-3.8],[-25.7,-3.5],[-25.7,-4.85],[-24.7,-6.2],[-25.4,-7.25],[-24.5,-8.85],[-23.4,-7.4],[-23.1,-6.2],[-23.7,-4.3],[-24.4,-2.7],[-23.1,-3],[-22.1,-4.6],[-21.4,-7.8],[-20.8,-9.1],[-21.1,-9.65],[-19.8,-5.9],[-20.1,-7.5],[-19.5,-9.1],[-19.2,-10.45],[-20.1,-11.15],[-18.2,-9.1],[-18.5,-7],[-17.8,-5.4],[-17.2,-7.5],[-16.5,-9.9],[-20.8,-3.25],[-19.5,-2.7],[-18.8,-1.65],[-17.8,-2.7],[-16.9,-3.8],[-21.4,-1.1],[-20.5,-1.65],[-26.6,-2.9],[-25,-2.6],[-22.5,-2.2],[-21.7,-3.4],[-22.6,-5.6],[-21,-5],[-19,-4.2],[-18,-3.9],[-17,-5.9],[-18.6,-5.6],[-17.7,-8.6],[-16.9,-10.8],[-18.6,-11.3],[-17.8,-12.4],[-19.6,-12.3],
[-22.8,-1.6],[-22.9,-2.9],[-22.9,-3.8],[-22.4,-5],[-21.9,-3],[-22,-6.5],[-20.6,-2.4],[-21,-4.1],[-20.2,-4.4],[-20.4,-6],[-19.6,-3.6],[-20.3,-8.4],
[19,24.1],[19.3,21.4],[19,20.6],[22.7,23.7],[27.6,26.5],[29.15,24.4],[25.7,24.4],[24.6,22.5],[25.4,22.6],[23.1,21.3],[22.2,20.85],[21.2,22],[25.2,19.7],[25.2,18.6],[25.5,17.7],[23.7,17.3],[21.7,19.15],[22.2,18.1],[20,19.15],[20.2,18.6],[17.9,19.15],[17.45,17.8],[18.75,17.55],[20.4,15.95],[21,15.4],[19.7,15.15],[20,13.8],[19.7,13.3],[20,11.95],[20.6,11.4],[19.5,10.6],[19.4,10.1],[17.8,10.35],[17.3,9.8],[17.65,12.5],[18.6,13.7],[18,15.15],[16.5,14.9],[15.5,19.8],[16,19.4],[13.3,18.7],[14.8,18.9],[13.5,17.55],[14.5,17],[16.1,17.8],[16.5,16.75],[14.8,16.5],[13.2,16.5],[11.9,16.2],[10.6,16.75],[8.5,16.3],[9.3,14.9],[10.9,15.4],[12.9,15.4],[13.5,14.6],[15.5,14.35],[14.5,13.55],[15.5,12.75],[14.8,11.7],[13.2,11.15],[13.9,9.8],[14.8,9.3],[15.5,8.6],[13.2,8.75],[12.2,7.4],[11.6,7.95],[10.9,5],[12.2,4.5],[12.9,4.5],[14.5,5.3],[15.2,5.9],[15.5,4.75],[16.9,7.3],[11.6,2.35],[9.9,1.1],[9.3,2.6],[8.3,2.1],[9,3.7],[9.6,5.8],[10.3,7.4],[11.9,10.1],[12.9,12.2],[10.6,13.3],[11.6,13.9],[12.4,14],[11.3,12.2],[13.9,12.8],[12.3,9.2],[11.2,9.1],[16.6,13],
[6.7,-4.15],[6.7,-1.65],[5.7,-1.1],[4.6,-3.35],[4.7,-1.4],[2.9,-5.55],[2.4,-4.6],[1.8,-4.85],[0.3,-6.2],[-0.07,-7.25],[0.13,-8.6],[0.3,-9.65],[0.26,-10.8],[-1.2,-7.8],[-2.5,-8.3],[-3.8,-7.5],[-4.8,-10.7],[-5.1,-10.7],[-6.4,-10.45],[-7.4,-9.65],[-8.4,-12.3],[-9,-13.1],[-9.7,-14.45],[-11.3,-15.8],[-12.5,-15.8],[-13.9,-15.8],[-15.75,-17.4],[-17.5,-19],
[-7.9,9],[-8.6,7.4],[-7.7,7.95],[-6.4,7],[-4.4,8.65],[-3.5,8.3],[-2.3,9.9],[-1,9],[0.45,11.3],[4.05,11.4],[2.75,10.35],[5.7,11.7],[7.3,13],[-10.3,5.8],[-10.3,4.2],[-8.7,5.3],[-7.4,5.3],[-12.9,3.15],[-11.6,3.15],[-14.4,2.7],[-15.55,1.55],[-17.2,0.2],[-18.8,-0.3],[-20.5,-0.05],[-17.5,-0.6],[-16.2,1.3],
[-8,8.94],[-7.77,7.89],[-8.48,7.38],[-7.75,6.7],[-6.33,7],[-4.34,8.57],[-3.39,8.4],[-2.5,7.7],[-2.22,9.9],[-4,7],[-4.66,6.36],[-5.77,5.5],[-6.89,5],[-7.5,5.9],[-10.2,5.5],[-9.6,5.3],[-10.4,4.3],[-12.97,3],[-11.7,3.3],[-14.6,2.6],[-15.4,1.67],[-17.4,0.58],[-16.1,0.58],[-14.5,1.1],[-13.2,1.77],[-12.2,2.28],[-9.43,3.8],[-7.8,4.3],[0.43,11.3],[-1.48,8.9],[-0.84,9.25],[1.38,9.76],[3.29,10.95],[4.56,11.46],[6.79,12.82],[7.74,13.67],
[-21.84,0.92],[-20.72,1.26],[-26.83,1.43],[-34.05,-0.61],[-28.2,-0.78],[-26.9,-0.95],[-25.97,-0.78],[-23.9,-0.61],[-22.93,-0.78],[-22.14,0.07],[-21.2,0.07],[-20.25,-0.27],[-18.34,-0.44],
[-28.5,-2.14],[-27.55,-1.8],[-26.9,-3],[-27.87,-3.67],[-25.33,-1.8],[-24.4,-2.48],[-23.74,-3.84],[-25,-3.84],[-26.4,-4.53],[-28.2,-4.86],[-29.44,-4.53],[-30.4,-5.54],[-28.8,-5.2],[-30.1,-6.9],[-29.1,-7.75],[-30.56,-8.8],[-29.6,-9.14],[-27.87,-7.95],[-26.6,-7.8],[-27.4,-6.22],[-25.3,-6.56],[-24.07,-8.26],[-24.55,-8.77],[-22.93,-5.88],[-21.5,-6.9],[-21.5,-7.9],[-20.4,-7.24],[-21.2,-9.63],[-20.25,-10.98],[-19.6,-8.94],[-18.6,-9.3],[-15.75,-8.6],
[-24.2,-21.2],[-23.6,-21.36],[-24.07,-22.4],[-22.15,-20.5],[-22.47,-22.9],[-21.5,-21.7],[-19.6,-20.5],[-18.8,-19.66],[-18.3,-20.17],[-17.07,-18.47],[-15.8,-17.45],[-23.1,-19.15],[-23.74,-15.4],[-24.4,-17.1],[-22.8,-14.7],[-22.15,-15.4],[-20.25,-13.7],[-21.2,-17.45],[-20.9,-18.8],[-22.3,-17.1],
[-14.2,-16.26],[-12.45,-15.9],[-11.02,-15.55],[-9.6,-14.4],[-8.95,-13.7],[-8.17,-12.7],[-9.43,-13],[-7.84,-11.3],[-6.72,-10.65],[-5.46,-10.98],[-4.8,-10.8],[-4.34,-8.6],[-2.6,-8.26],[-1.16,-7.75],[0.11,-6.2],[-0.05,-7.4],[-0.05,-8.4],[0.11,-9.63],[0.33,-10.88],[1.7,-4.9],[2.5,-4.5],[2.88,-5.5],[4.56,-3.3],[6.63,-4.2],[2.8,-3.3],[6.2,-1.45],[7,-1.45]];

/* ---------- layout (pixels per panel) ---------- */
const contourColors = [null,'#1b3a88','#1a4fa3','#2f78c2','#55bfdc','#8fd08a','#f0e42c','#f58a1a','#e3191c','#8a1a1e'];
const panelLayouts = [
 {id:'a',frame:[122,55,861,751],x0:438.5,kx:21.1,y0:453,ky:19.84,zero:2.2,dash:6,squeeze:1.03,xLabelY:790,yLabelX:108,
  xNudge:[7,-13,-2,1,-1,-7,-21],yNudge:[20,20,8,10,20,13,9,-2]},
 {id:'b',frame:[977,52,1717,748],x0:1350,kx:24.67,y0:401.5,ky:23.15,zero:1.6,dash:6,squeeze:0.92,xLabelY:787,yLabelX:962,
  xNudge:[-4,8,-1,7,18,-7],yNudge:[27,17,15,17,23,20,-1]},
 {id:'c',frame:[131,854,861,1542],x0:496,kx:18.26,y0:1197,ky:17.2,zero:1.7,dash:0,squeeze:1,xLabelY:1581,yLabelX:114,
  xNudge:[-4,2,-6,-4,4,-4,5,-17],yNudge:[20,11,13,26,10,16,12,14,2]},
 {id:'d',frame:[984,855,1715,1542],x0:1405.5,kx:10.48,y0:1149,ky:9.8,zero:1.7,dash:2,squeeze:0.92,xLabelY:1578,yLabelX:973,
  xNudge:[3,-6,3,0,7,1,-10],yNudge:[26,16,15,14,18,16,15,-8]}
];
const panelSeries = [
 {xTicks:xTicksA,yTicks:yTicksA,hull:hullA,contours:contoursA,points:pointsA},
 {xTicks:xTicksB,yTicks:yTicksB,hull:hullB,contours:contoursB,points:pointsB},
 {xTicks:xTicksC,yTicks:yTicksC,hull:hullC,contours:contoursC,points:pointsC},
 {xTicks:xTicksD,yTicks:yTicksD,hull:hullD,contours:contoursD,points:pointsD}
];

/* ---------- colour bar ---------- */
const colorStops = [[0,'#7a1a1e'],[0.06,'#a81e24'],[0.12,'#e3191c'],[0.2,'#ee4a1c'],[0.27,'#f47a1c'],[0.31,'#f8a516'],[0.37,'#f5e82a'],[0.43,'#c8d83e'],[0.49,'#a5c752'],[0.55,'#7dbf82'],[0.62,'#6cbfb8'],[0.655,'#62bcd8'],[0.69,'#2cb5ea'],[0.73,'#3292d2'],[0.77,'#2f6fb4'],[0.82,'#2455a3'],[0.88,'#1a4b9c'],[0.93,'#0f3288'],[1,'#1e2a6a']];
const colorbarTicks = [511,585,659,733,807,882,955,1030];

const NS = 'http://www.w3.org/2000/svg';
function make(tag, parent){
  const node = document.createElementNS(NS, tag);
  parent.appendChild(node);
  return node;
}
function put(node, values){
  for (const k in values) node.setAttribute(k, values[k]);
}
function labelWidth(s, size, squeeze){
  let em = 0;
  for (const ch of s) em += ch === '-' ? 0.333 : 0.5;
  return em * size * squeeze;
}

const panelsRoot = document.getElementById('panels');
panelLayouts.forEach(function(L, i){
  const S = panelSeries[i];
  const xp = function(v){ return L.x0 + L.kx * v; };
  const yp = function(v){ return L.y0 - L.ky * v; };
  const f = L.frame;
  const clampX = function(p){ return Math.min(Math.max(p, f[0]), f[2]); };
  const clampY = function(p){ return Math.min(Math.max(p, f[1]), f[3]); };

  const g = make('g', panelsRoot);
  
  

  /* fit line and 1:1 line */
  const x1 = lineFromX[i], x2 = lineToX[i];
  const oneToOne = make('line', g);
  
  
  put(oneToOne, {x1:xp(x1),y1:yp(x1),x2:xp(x2),y2:yp(x2),stroke:'#1a4a9b','stroke-width':3.8,'stroke-dasharray':'37.5 37.5','stroke-dashoffset':L.dash});

  const fit = make('line', g);
  
  
  const m = fitSlopes[i], q = fitIntercepts[i];
  put(fit, {x1:xp(x1),y1:yp(m*x1+q),x2:xp(x2),y2:yp(m*x2+q),stroke:'#e8221a','stroke-width':4.4});

  /* solid low-density body */
  const hull = make('polygon', g);
  
  
  put(hull, {points:S.hull.map(function(p){ return xp(p[0]) + ',' + yp(p[1]); }).join(' '),fill:'#1d2f6f',stroke:'#1d2f6f','stroke-width':8,'stroke-linejoin':'round'});

  /* individual points */
  S.points.forEach(function(p){
    const c = make('circle', g);
    
    
    put(c, {cx:xp(p[0]),cy:yp(p[1]),r:4.8,fill:'#1d2f6f'});
  });

  /* higher-density contours */
  S.contours.forEach(function(entry){
    const poly = make('polygon', g);
    
    
    put(poly, {points:entry[1].map(function(p){ return xp(p[0]) + ',' + yp(p[1]); }).join(' '),fill:contourColors[entry[0]],filter:'url(#soft)'});
  });

  /* zero lines */
  const vz = make('line', g);
  
  
  put(vz, {x1:xp(0),y1:f[1],x2:xp(0),y2:f[3],stroke:'#231815','stroke-width':L.zero});
  const hz = make('line', g);
  
  
  put(hz, {x1:f[0],y1:yp(0),x2:f[2],y2:yp(0),stroke:'#231815','stroke-width':L.zero});

  /* frame */
  const frame = make('rect', g);
  
  
  put(frame, {x:f[0],y:f[1],width:f[2]-f[0],height:f[3]-f[1],fill:'none',stroke:'#231815','stroke-width':4});

  /* x ticks + labels */
  S.xTicks.forEach(function(v, k){
    const px = clampX(xp(v));
    const top = make('line', g);
    
    
    put(top, {x1:px,y1:f[1],x2:px,y2:f[1]+9,stroke:'#231815','stroke-width':3.5});
    const bot = make('line', g);
    
    
    put(bot, {x1:px,y1:f[3],x2:px,y2:f[3]-9,stroke:'#231815','stroke-width':3.5});
    const t = make('text', g);
    
    
    put(t, {x:px+L.xNudge[k],y:L.xLabelY,'font-size':39,'text-anchor':'middle',textLength:labelWidth(String(v),39,L.squeeze),lengthAdjust:'spacingAndGlyphs'});
    t.style.fill = '#4a4a4a';
    t.textContent = String(v);
  });

  /* y ticks + labels */
  S.yTicks.forEach(function(v, k){
    const py = clampY(yp(v));
    const lft = make('line', g);
    
    
    put(lft, {x1:f[0],y1:py,x2:f[0]+9,y2:py,stroke:'#231815','stroke-width':3.5});
    const rgt = make('line', g);
    
    
    put(rgt, {x1:f[2],y1:py,x2:f[2]-9,y2:py,stroke:'#231815','stroke-width':3.5});
    const t = make('text', g);
    
    
    put(t, {x:L.yLabelX,y:py+L.yNudge[k],'font-size':39,'text-anchor':'end',textLength:labelWidth(String(v),39,L.squeeze),lengthAdjust:'spacingAndGlyphs'});
    t.style.fill = '#4a4a4a';
    t.textContent = String(v);
  });
});

/* colour bar */
(function(){
  const root = document.getElementById('colorbar');
  const top = 461, bottom = 1104, left = 1818, right = 1867;
  const bands = 58;
  function hex(c){ return [parseInt(c.slice(1,3),16),parseInt(c.slice(3,5),16),parseInt(c.slice(5,7),16)]; }
  function colorAt(t){
    for (let j = 1; j < colorStops.length; j++){
      if (t <= colorStops[j][0]){
        const a = colorStops[j-1], b = colorStops[j];
        const u = (t - a[0]) / (b[0] - a[0]);
        const ca = hex(a[1]), cb = hex(b[1]);
        return 'rgb(' + ca.map(function(v, n){ return Math.round(v + (cb[n] - v) * u); }).join(',') + ')';
      }
    }
    return colorStops[colorStops.length-1][1];
  }
  const h = (bottom - top) / bands;
  for (let b = 0; b < bands; b++){
    const r = make('rect', root);
    
    
    put(r, {x:left,y:top+b*h,width:right-left,height:h+0.6,fill:colorAt((b+0.5)/bands)});
  }
  const border = make('rect', root);
  
  
  put(border, {x:left,y:top,width:right-left,height:bottom-top,fill:'none',stroke:'#5c5c5c','stroke-width':3});
  colorbarTicks.forEach(function(y){
    const t = make('line', root);
    
    
    put(t, {x1:right-7,y1:y,x2:right,y2:y,stroke:'#4a4a4a','stroke-width':1.6});
  });
})();
</script>
</body>
</html>
